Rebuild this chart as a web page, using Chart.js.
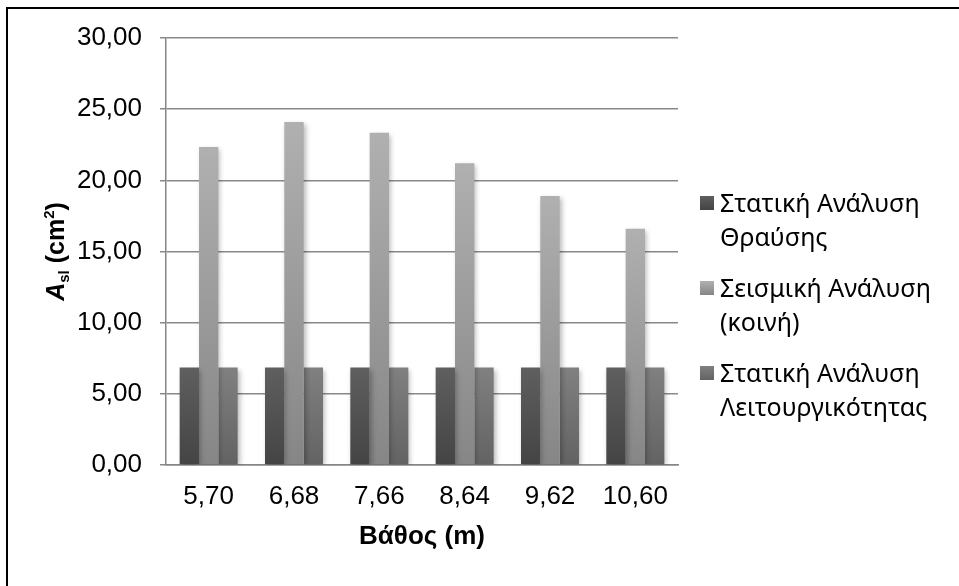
<!DOCTYPE html>
<html>
<head>
<meta charset="utf-8">
<title>Asl - Βάθος</title>
<script src="https://cdn.jsdelivr.net/npm/chart.js@4.4.0/dist/chart.umd.min.js"></script>
<style>
  html, body { margin: 0; padding: 0; background: #fff; }
  #wrap { position: relative; width: 959px; height: 586px; overflow: hidden; }
  #frame { position: absolute; left: 6px; top: 7px; width: 1200px; height: 900px;
           border-left: 2px solid #000; border-top: 2px solid #000; }
  #chart { position: absolute; left: 0; top: 0; }
  #legend { position: absolute; left: 700px; top: 185px; font-family: "Noto Sans", sans-serif;
            font-size: 25px; line-height: 34px; color: #000; }
  .item { position: relative; padding-left: 20px; margin-bottom: 17px; }
  .box { position: absolute; left: 0; top: 11px; width: 14px; height: 14px; }
</style>
</head>
<body>
<div id="wrap">
  <div id="frame"></div>
  <canvas id="chart" width="959" height="586"></canvas>
  <div id="legend"></div>
</div>
<script>
// depth (m) on the x axis
const depths = ['5,70', '6,68', '7,66', '8,64', '9,62', '10,60'];

// Asl (cm2) per analysis
const staticFracture = [6.85, 6.85, 6.85, 6.85, 6.85, 6.85];
const seismicCommon = [22.35, 24.1, 23.35, 21.2, 18.9, 16.6];
const staticService = [6.85, 6.85, 6.85, 6.85, 6.85, 6.85];

const seriesNames = ['Στατική Ανάλυση\nΘραύσης', 'Σεισμική Ανάλυση\n(κοινή)', 'Στατική Ανάλυση\nΛειτουργικότητας'];
const seriesColors = [['#5f5f5f', '#444444'], ['#b0b0b0', '#868686'], ['#808080', '#636363']];

const yMin = 0, yMax = 30, yStep = 5;

// each bar gets its own top-to-bottom gradient
function barGradient(top, bottom) {
  return (ctx) => {
    const chart = ctx.chart;
    if (!chart.chartArea || ctx.type !== 'data') return bottom;
    const y = chart.scales.y.getPixelForValue(ctx.raw);
    const base = chart.scales.y.getPixelForValue(0);
    const g = chart.ctx.createLinearGradient(0, y, 0, base);
    g.addColorStop(0, top);
    g.addColorStop(1, bottom);
    return g;
  };
}

const barShadow = {
  id: 'barShadow',
  beforeDatasetsDraw(chart) {
    const c = chart.ctx;
    c.save();
    c.shadowColor = 'rgba(0,0,0,0.28)';
    c.shadowBlur = 5;
    c.shadowOffsetX = 2;
    c.shadowOffsetY = 2;
  },
  afterDatasetsDraw(chart) {
    chart.ctx.restore();
  }
};

// y title with subscript / superscript
const yTitle = {
  id: 'yTitle',
  afterDraw(chart) {
    const c = chart.ctx;
    const a = chart.chartArea;
    const fam = '"Liberation Sans", Arial, sans-serif';
    const parts = [
      { t: 'A', f: 'italic bold 25px ' + fam, dy: 0 },
      { t: 'sl', f: 'bold 15px ' + fam, dy: 5 },
      { t: ' (cm', f: 'bold 25px ' + fam, dy: 0 },
      { t: '2', f: 'bold 15px ' + fam, dy: -10 },
      { t: ')', f: 'bold 25px ' + fam, dy: 0 }
    ];
    c.save();
    let w = 0;
    parts.forEach(p => { c.font = p.f; p.w = c.measureText(p.t).width; w += p.w; });
    c.translate(55, (a.top + a.bottom) / 2);
    c.rotate(-Math.PI / 2);
    c.fillStyle = '#000';
    c.textBaseline = 'alphabetic';
    let x = -w / 2;
    parts.forEach(p => {
      c.font = p.f;
      c.fillText(p.t, x, 9 + p.dy);
      x += p.w;
    });
    c.restore();
  }
};

const datasets = [staticFracture, seismicCommon, staticService].map((values, i) => ({
  label: seriesNames[i],
  data: values,
  backgroundColor: barGradient(seriesColors[i][0], seriesColors[i][1]),
  borderWidth: 0,
  categoryPercentage: 0.68,
  barPercentage: 1.0
}));

const tickFont = { family: '"Liberation Sans", Arial, sans-serif', size: 26 };

new Chart(document.getElementById('chart'), {
  type: 'bar',
  data: { labels: depths, datasets: datasets },
  options: {
    responsive: false,
    animation: false,
    layout: { padding: { left: 0, right: 281, top: 38, bottom: 34 } },
    plugins: {
      legend: { display: false },
      tooltip: { enabled: false }
    },
    scales: {
      x: {
        afterFit(scale) { scale.height = 87; },
        grid: { display: false, drawTicks: false },
        border: { display: true, color: '#868686', width: 1.5 },
        ticks: { color: '#000', font: tickFont, padding: 16 },
        title: {
          display: true,
          text: 'Βάθος (m)',
          color: '#000',
          font: { family: '"Liberation Sans", Arial, sans-serif', size: 26, weight: 'bold' },
          padding: { top: 0, bottom: 0 }
        }
      },
      y: {
        min: yMin,
        max: yMax,
        afterFit(scale) { scale.width = 166; },
        grid: { color: '#888888', lineWidth: 1.5, drawTicks: true, tickLength: 6 },
        border: { display: true, color: '#868686', width: 1.5 },
        ticks: {
          stepSize: yStep,
          color: '#000',
          font: tickFont,
          padding: 18,
          callback: (v) => v.toFixed(2).replace('.', ',')
        }
      }
    }
  },
  plugins: [barShadow, yTitle]
});

// legend with two-line labels
const legend = document.getElementById('legend');
seriesNames.forEach((name, i) => {
  const item = document.createElement('div');
  item.className = 'item';
  const box = document.createElement('span');
  box.className = 'box';
  box.style.background = 'linear-gradient(' + seriesColors[i][0] + ', ' + seriesColors[i][1] + ')';
  item.appendChild(box);
  name.split('\n').forEach(line => {
    const d = document.createElement('div');
    d.textContent = line;
    item.appendChild(d);
  });
  legend.appendChild(item);
});
</script>
</body>
</html>
